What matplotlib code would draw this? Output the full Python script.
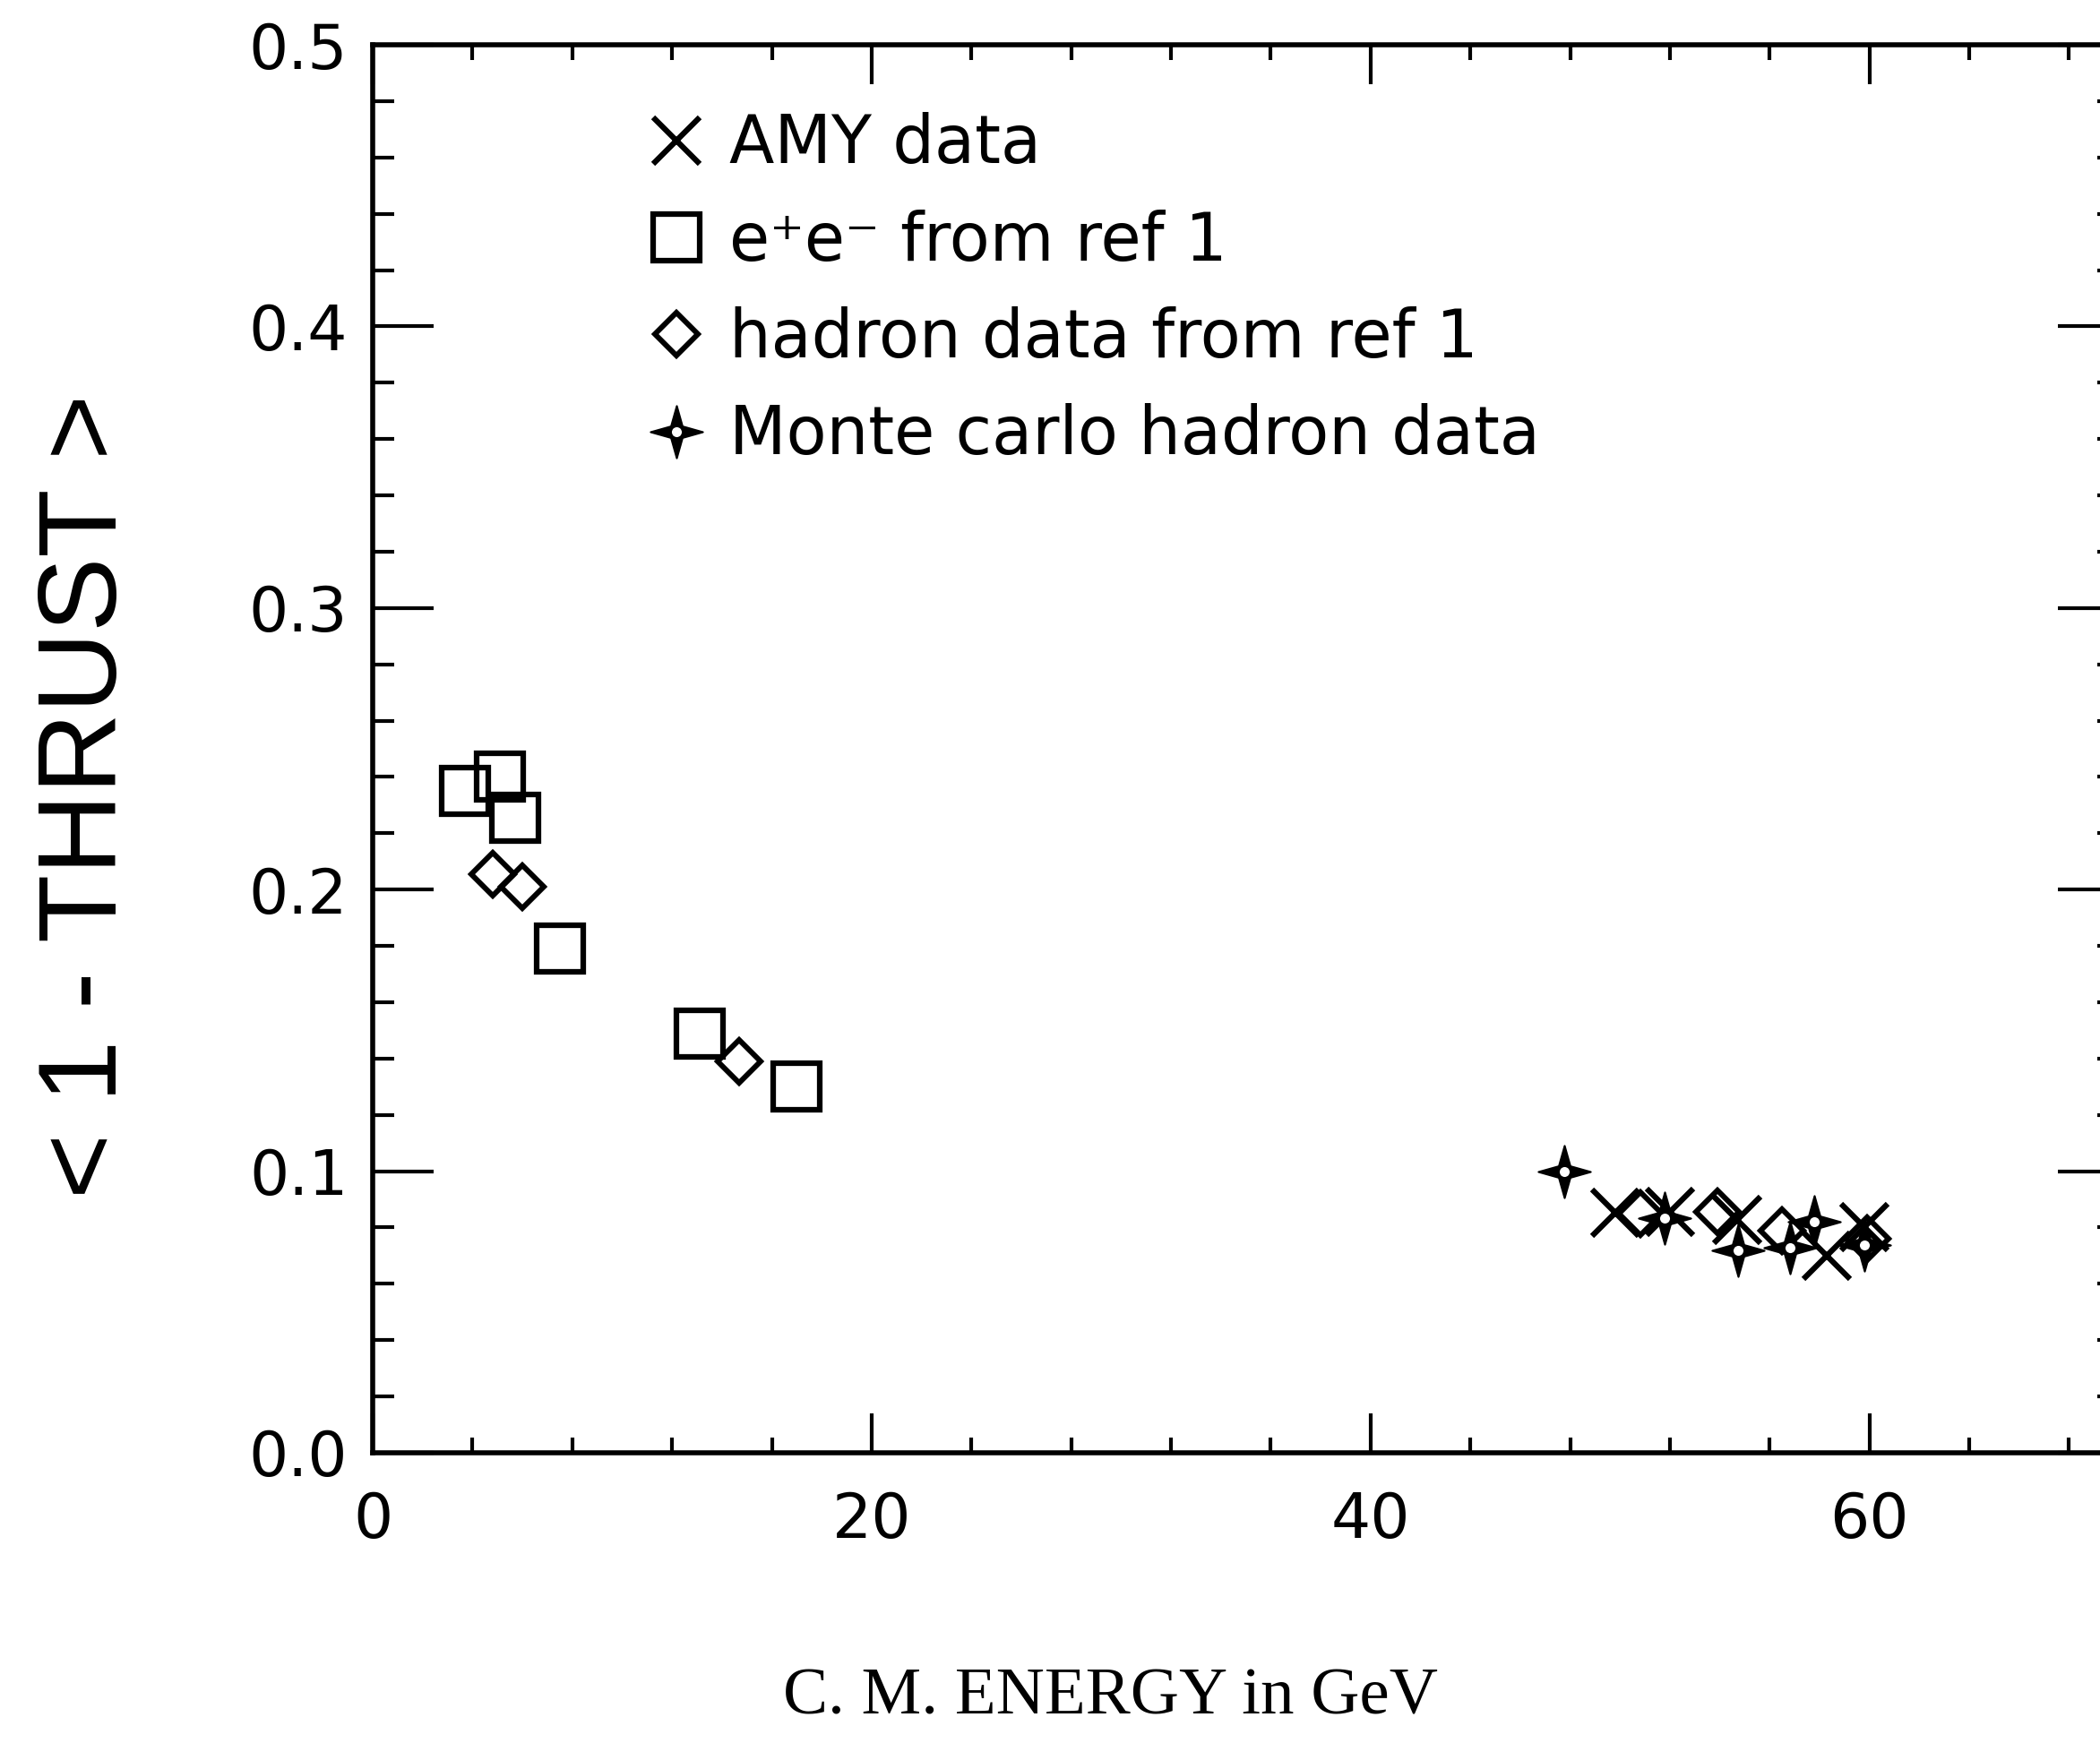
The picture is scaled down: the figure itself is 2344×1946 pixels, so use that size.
import matplotlib
matplotlib.use("Agg")
import matplotlib.pyplot as plt
from matplotlib.path import Path
from matplotlib import font_manager
from matplotlib.ticker import MultipleLocator, FormatStrFormatter
from matplotlib.legend_handler import HandlerTuple

# ---- data ----
amy_energy = [49.8, 52.0, 54.7, 58.3, 59.8]
amy_thrust = [0.0852, 0.0854, 0.0828, 0.0700, 0.0801]

ee_energy = [3.7, 5.1, 5.7, 7.5, 13.1, 17.0]
ee_thrust = [0.235, 0.240, 0.2255, 0.179, 0.149, 0.130]

hadron_energy = [4.8, 6.0, 14.7, 50.8, 53.9, 56.5, 59.9]
hadron_thrust = [0.2055, 0.201, 0.139, 0.0849, 0.0854, 0.0790, 0.0759]

mc_energy = [47.75, 51.8, 54.75, 56.8, 57.8, 59.8]
mc_thrust = [0.100, 0.0833, 0.0718, 0.0727, 0.0822, 0.0738]

labels = ["AMY data", "e\u207ae\u207b from ref 1", "hadron data from ref 1",
          "Monte carlo hadron data"]
x_label = "C. M. ENERGY in GeV"
y_label = "< 1 - THRUST >"

# ---- fonts ----
names = {f.name for f in font_manager.fontManager.ttflist}
if "Liberation Sans Narrow" in names:
    ylab_family, ylab_size = "Liberation Sans Narrow", 105
elif "Liberation Sans" in names:
    ylab_family, ylab_size = "Liberation Sans", 90
else:
    ylab_family, ylab_size = "DejaVu Sans", 82
serif = "Liberation Serif" if "Liberation Serif" in names else "DejaVu Serif"

fig = plt.figure(figsize=(23.44, 19.46), dpi=100)
ax = fig.add_axes([0.1775, 0.1665, 0.8315, 0.8078])
ax.set_xlim(0, 70)
ax.set_ylim(0, 0.5)

ax.xaxis.set_major_locator(MultipleLocator(20))
ax.xaxis.set_minor_locator(MultipleLocator(4))
ax.yaxis.set_major_locator(MultipleLocator(0.1))
ax.yaxis.set_minor_locator(MultipleLocator(0.02))
ax.yaxis.set_major_formatter(FormatStrFormatter("%.1f"))
ax.xaxis.set_major_formatter(FormatStrFormatter("%d"))

ax.tick_params(which="both", direction="in", top=True, right=True,
               labelsize=50, width=3, color="black")
ax.tick_params(axis="y", which="major", length=49, pad=20)
ax.tick_params(axis="y", which="minor", length=17)
ax.tick_params(axis="x", which="major", length=32, pad=30)
ax.tick_params(axis="x", which="minor", length=12)
for s in ax.spines.values():
    s.set_linewidth(4)

# ---- data marks ----
ee_line, = ax.plot(ee_energy, ee_thrust, ls="none", marker="s", ms=37,
                   mfc="none", mec="black", mew=4.5)
had_line, = ax.plot(hadron_energy, hadron_thrust, ls="none", marker="D", ms=24,
                    mfc="none", mec="black", mew=4.3)
amy_line, = ax.plot(amy_energy, amy_thrust, ls="none", marker="x", ms=38,
                    mec="black", mew=4.5)

a = 0.22
star = Path([(0, 1), (a, a), (1, 0), (a, -a), (0, -1), (-a, -a), (-1, 0), (-a, a), (0, 1)],
            [Path.MOVETO] + [Path.LINETO] * 7 + [Path.CLOSEPOLY])
mc_star, = ax.plot(mc_energy, mc_thrust, ls="none", marker=star, ms=42,
                   mfc="black", mec="black", mew=1.5)
mc_ring, = ax.plot(mc_energy, mc_thrust, ls="none", marker="o", ms=11,
                   mfc="white", mec="black", mew=3)

ax.legend([amy_line, ee_line, had_line, (mc_star, mc_ring)], labels,
          loc="upper left", bbox_to_anchor=(0.155, 0.952), frameon=False,
          fontsize=53, handlelength=1.0, handletextpad=0.3, labelspacing=0.48,
          borderpad=0, borderaxespad=0, numpoints=1,
          handler_map={tuple: HandlerTuple(ndivide=1)})

fig.text(0.042, 0.543, y_label, rotation=90, ha="center", va="center",
         fontsize=ylab_size, family=ylab_family)
fig.text(0.529, 0.026, x_label, ha="center", va="center", fontsize=54,
         family=serif)

fig.savefig("out.png", dpi=100)
